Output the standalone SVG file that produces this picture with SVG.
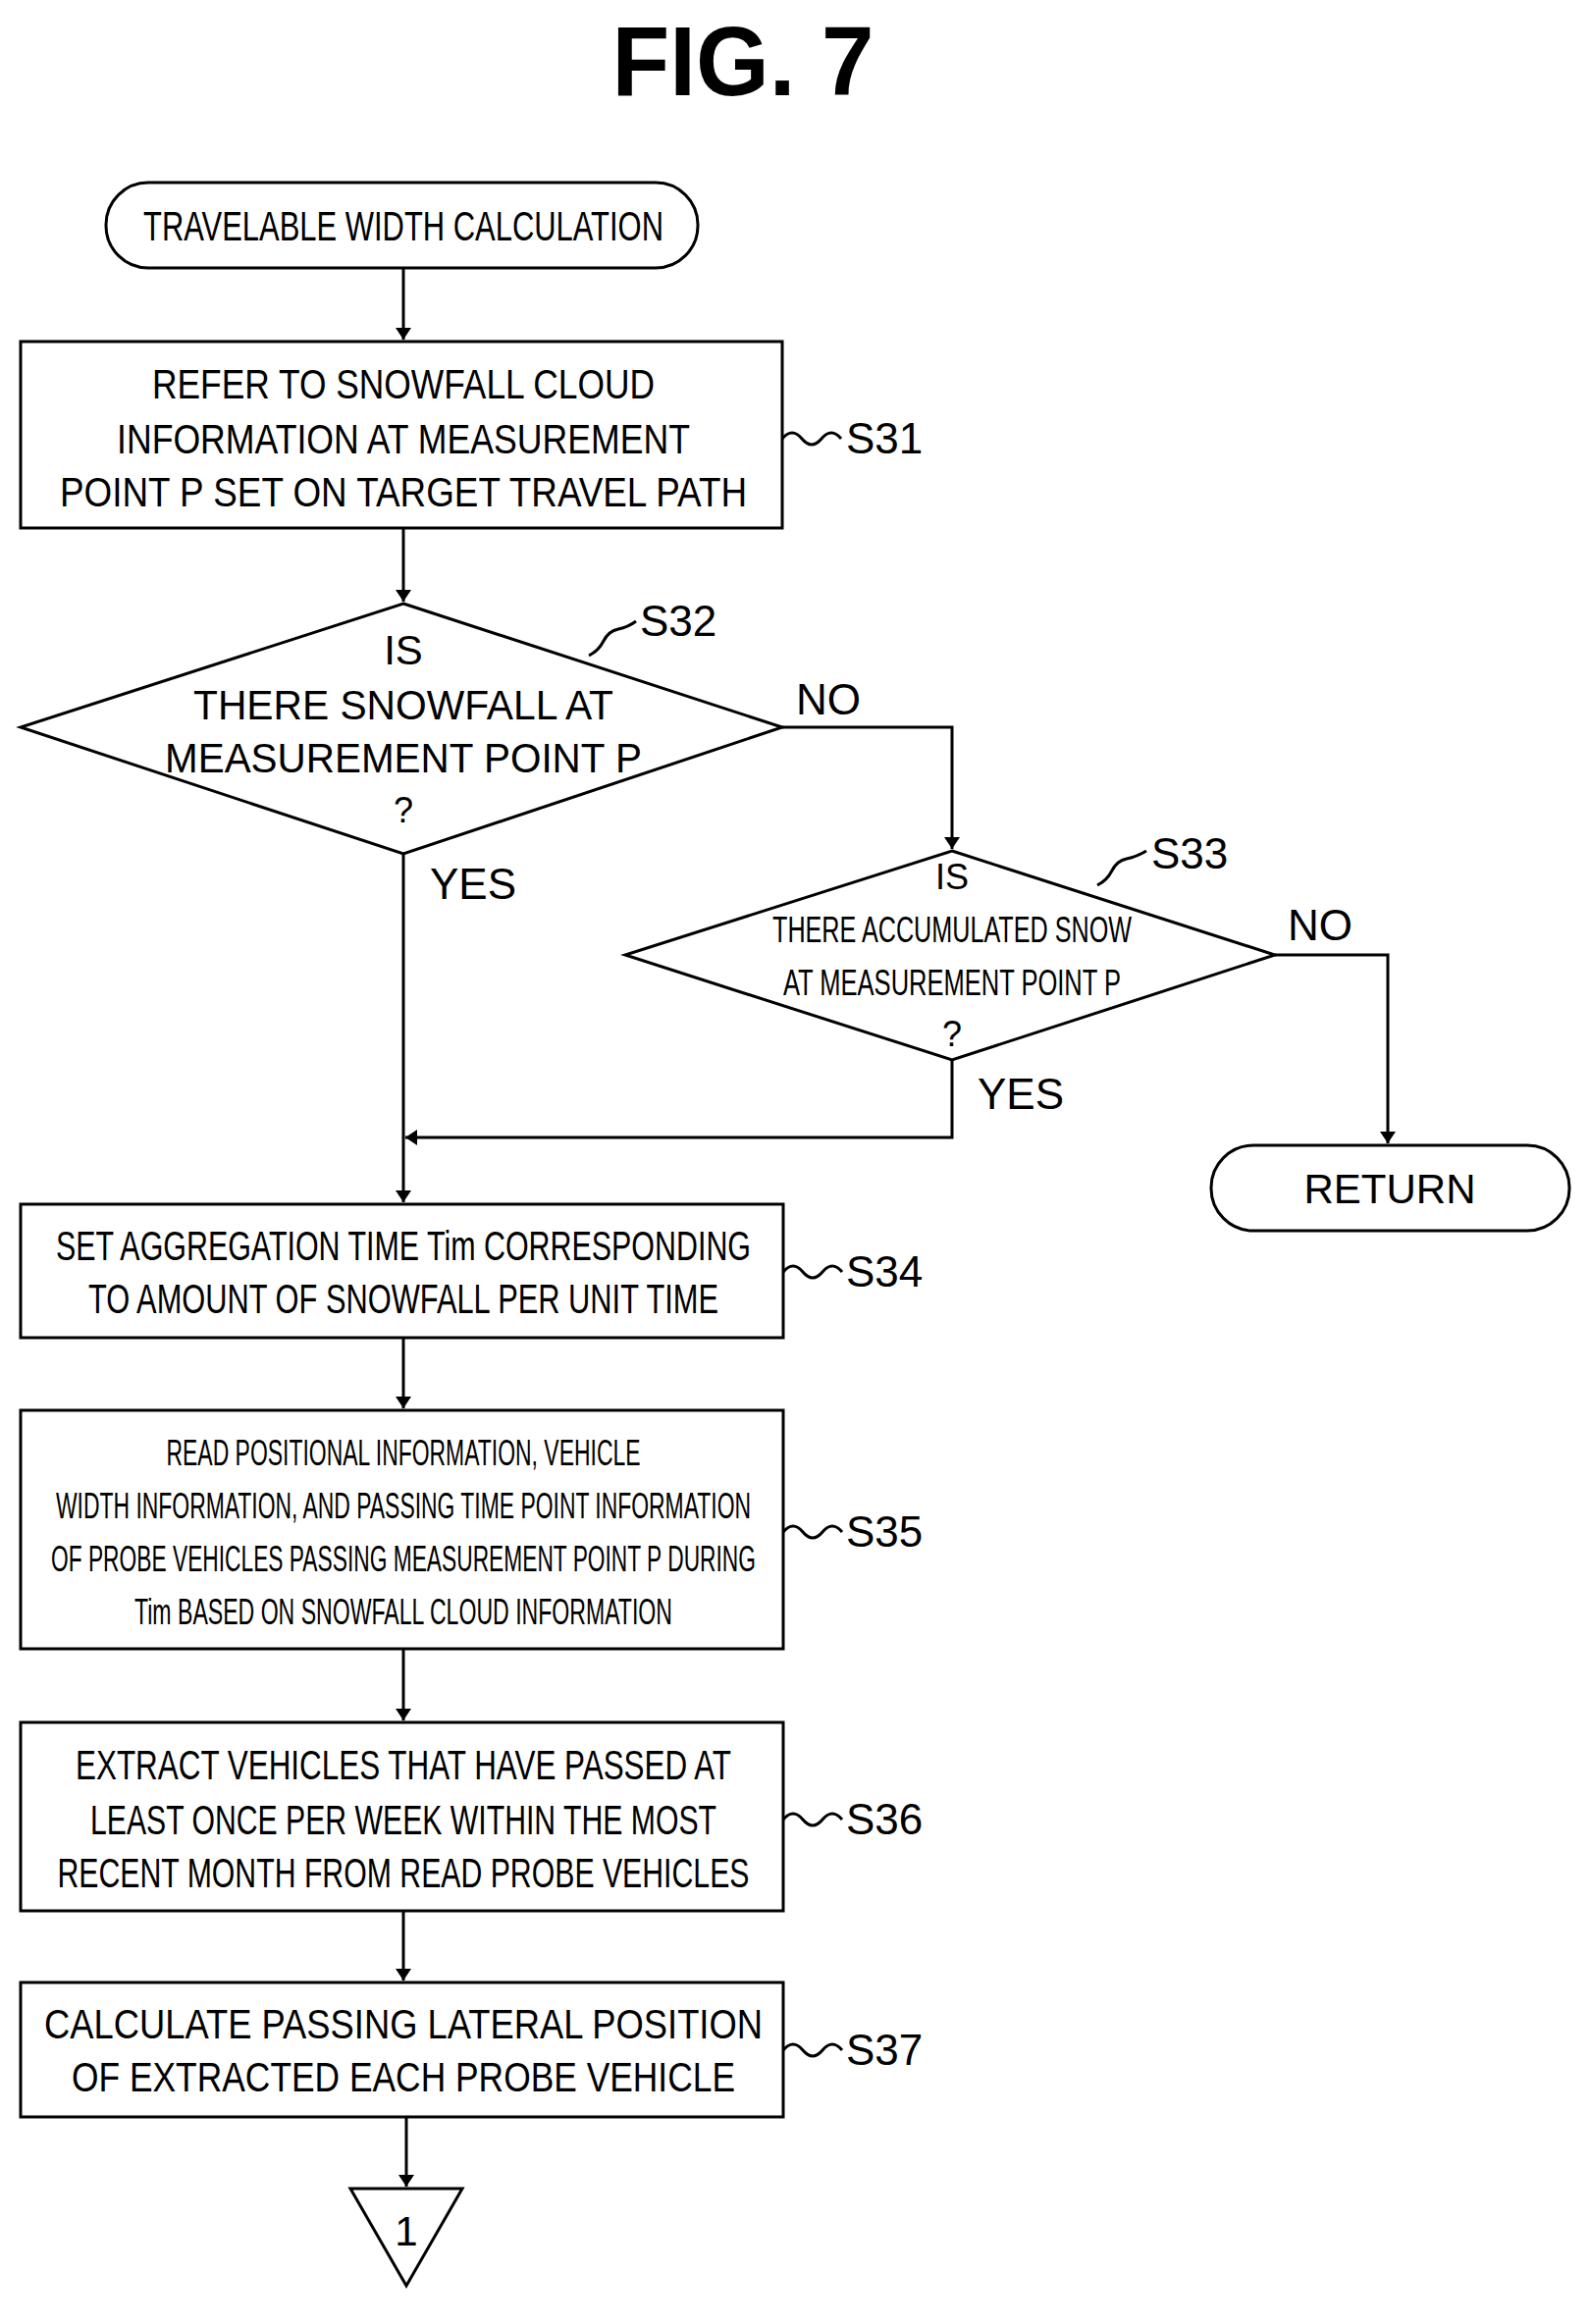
<svg xmlns="http://www.w3.org/2000/svg" width="1620" height="2368" viewBox="0 0 1620 2368">
<style>
.s{fill:#fff;stroke:#000;stroke-width:3}
.c{fill:none;stroke:#000;stroke-width:3}
.t{font-family:"Liberation Sans",Arial,sans-serif;font-size:42px;text-anchor:middle;fill:#000}
.m{font-size:36px}
.l{font-family:"Liberation Sans",Arial,sans-serif;font-size:44px;fill:#000}
</style>
<defs><marker id="a" markerWidth="12" markerHeight="16" refX="12" refY="8" orient="auto" markerUnits="userSpaceOnUse"><path d="M0,0 L12,8 L0,16 Z" fill="#000"/></marker></defs>
<rect width="1620" height="2368" fill="#fff"/>
<text x="757" y="97" font-family="Liberation Sans,Arial,sans-serif" font-size="100" font-weight="bold" text-anchor="middle" textLength="267" lengthAdjust="spacingAndGlyphs">FIG. 7</text>
<g id="connectors">
<path class="c" d="M411,273 V346" marker-end="url(#a)"/>
<path class="c" d="M411,538 V613" marker-end="url(#a)"/>
<path class="c" d="M797,741 H970 V865" marker-end="url(#a)"/>
<path class="c" d="M1299,973 H1414 V1165" marker-end="url(#a)"/>
<path class="c" d="M411,870 V1225" marker-end="url(#a)"/>
<path class="c" d="M970,1080 V1159 H413" marker-end="url(#a)"/>
<path class="c" d="M411,1363 V1435" marker-end="url(#a)"/>
<path class="c" d="M411,1680 V1753" marker-end="url(#a)"/>
<path class="c" d="M411,1947 V2018" marker-end="url(#a)"/>
<path class="c" d="M414,2157 V2228" marker-end="url(#a)"/>
<text class="l" x="811" y="728">NO</text>
<text class="l" x="1312" y="958">NO</text>
<text class="l" x="438" y="916">YES</text>
<text class="l" x="996" y="1130">YES</text>
</g>
<g id="start"><rect class="s" x="108" y="186" width="603" height="87" rx="43"/><text class="t" x="411" y="245" textLength="530" lengthAdjust="spacingAndGlyphs">TRAVELABLE WIDTH CALCULATION</text></g>
<g id="S31"><rect class="s" x="21" y="348" width="776" height="190"/>
<text class="t" x="411" y="406" textLength="512" lengthAdjust="spacingAndGlyphs">REFER TO SNOWFALL CLOUD</text>
<text class="t" x="411" y="462" textLength="584" lengthAdjust="spacingAndGlyphs">INFORMATION AT MEASUREMENT</text>
<text class="t" x="411" y="516" textLength="700" lengthAdjust="spacingAndGlyphs">POINT P SET ON TARGET TRAVEL PATH</text>
<path class="c" d="M797,447 q10,-12 20,0 t20,0 t20,0"/><text class="l" x="862" y="462">S31</text></g>
<g id="S32"><polygon class="s" points="411,615 797,741 411,870 21,741"/>
<text class="t" x="411" y="677">IS</text>
<text class="t" x="411" y="733" textLength="428" lengthAdjust="spacingAndGlyphs">THERE SNOWFALL AT</text>
<text class="t" x="411" y="787" textLength="486" lengthAdjust="spacingAndGlyphs">MEASUREMENT POINT P</text>
<text class="t m" x="411" y="838">?</text>
<path class="c" d="M600,668 q10,-5 15,-15 t15,-12 t18,-8"/><text class="l" x="652" y="648">S32</text></g>
<g id="S33"><polygon class="s" points="970,867 1299,973 970,1080 637,973"/>
<text class="t m" x="970" y="906">IS</text>
<text class="t m" x="970" y="960" textLength="366" lengthAdjust="spacingAndGlyphs">THERE ACCUMULATED SNOW</text>
<text class="t m" x="970" y="1014" textLength="344" lengthAdjust="spacingAndGlyphs">AT MEASUREMENT POINT P</text>
<text class="t m" x="970" y="1066">?</text>
<path class="c" d="M1118,902 q10,-5 15,-15 t15,-12 t20,-8"/><text class="l" x="1173" y="885">S33</text></g>
<g id="return"><rect class="s" x="1234" y="1167" width="365" height="87" rx="43"/><text class="t" x="1416" y="1226">RETURN</text></g>
<g id="S34"><rect class="s" x="21" y="1227" width="777" height="136"/>
<text class="t" x="411" y="1284" textLength="708" lengthAdjust="spacingAndGlyphs">SET AGGREGATION TIME Tim CORRESPONDING</text>
<text class="t" x="411" y="1338" textLength="642" lengthAdjust="spacingAndGlyphs">TO AMOUNT OF SNOWFALL PER UNIT TIME</text>
<path class="c" d="M798,1296 q10,-12 20,0 t20,0 t20,0"/><text class="l" x="862" y="1311">S34</text></g>
<g id="S35"><rect class="s" x="21" y="1437" width="777" height="243"/>
<text class="t m" x="411" y="1493" textLength="483" lengthAdjust="spacingAndGlyphs">READ POSITIONAL INFORMATION, VEHICLE</text>
<text class="t m" x="411" y="1547" textLength="708" lengthAdjust="spacingAndGlyphs">WIDTH INFORMATION, AND PASSING TIME POINT INFORMATION</text>
<text class="t m" x="411" y="1601" textLength="718" lengthAdjust="spacingAndGlyphs">OF PROBE VEHICLES PASSING MEASUREMENT POINT P DURING</text>
<text class="t m" x="411" y="1655" textLength="548" lengthAdjust="spacingAndGlyphs">Tim BASED ON SNOWFALL CLOUD INFORMATION</text>
<path class="c" d="M798,1561 q10,-12 20,0 t20,0 t20,0"/><text class="l" x="862" y="1576">S35</text></g>
<g id="S36"><rect class="s" x="21" y="1755" width="777" height="192"/>
<text class="t" x="411" y="1813" textLength="668" lengthAdjust="spacingAndGlyphs">EXTRACT VEHICLES THAT HAVE PASSED AT</text>
<text class="t" x="411" y="1869" textLength="638" lengthAdjust="spacingAndGlyphs">LEAST ONCE PER WEEK WITHIN THE MOST</text>
<text class="t" x="411" y="1923" textLength="705" lengthAdjust="spacingAndGlyphs">RECENT MONTH FROM READ PROBE VEHICLES</text>
<path class="c" d="M798,1854 q10,-12 20,0 t20,0 t20,0"/><text class="l" x="862" y="1869">S36</text></g>
<g id="S37"><rect class="s" x="21" y="2020" width="777" height="137"/>
<text class="t" x="411" y="2077" textLength="732" lengthAdjust="spacingAndGlyphs">CALCULATE PASSING LATERAL POSITION</text>
<text class="t" x="411" y="2131" textLength="676" lengthAdjust="spacingAndGlyphs">OF EXTRACTED EACH PROBE VEHICLE</text>
<path class="c" d="M798,2089 q10,-12 20,0 t20,0 t20,0"/><text class="l" x="862" y="2104">S37</text></g>
<g id="conn1"><polygon class="s" points="357,2230 471,2230 414,2329"/><text class="t" x="414" y="2288">1</text></g>
</svg>
